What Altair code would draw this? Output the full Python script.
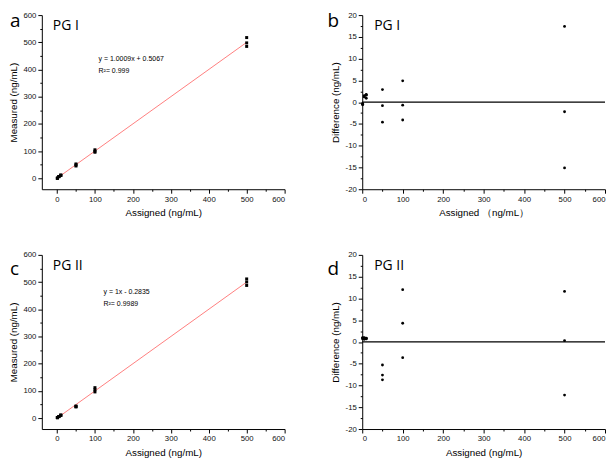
import altair as alt
import pandas as pd

# ---- data ----
assigned = [1, 1, 1, 5, 5, 5, 10, 10, 10, 50, 50, 50, 100, 100, 100, 500, 500, 500]
measured_pg1 = [0.5, 0.7, 0.4, 6.5, 6.2, 6.4, 11.8, 10.9, 11.6, 52.9, 49.2, 45.4, 104.9, 99.3, 95.9, 517.4, 497.8, 484.9]
diff_pg1 = [-0.5, -0.3, -0.6, 1.5, 1.2, 1.4, 1.8, 0.9, 1.6, 2.9, -0.8, -4.6, 4.9, -0.7, -4.1, 17.4, -2.2, -15.1]
measured_pg2 = [1.9, 1.7, 2.0, 5.8, 6.0, 5.6, 10.9, 10.7, 10.8, 44.7, 42.4, 41.3, 112.0, 104.3, 96.4, 511.6, 500.3, 487.8]
diff_pg2 = [0.9, 0.7, 1.0, 0.8, 1.0, 0.6, 0.9, 0.7, 0.8, -5.3, -7.6, -8.7, 12.0, 4.3, -3.6, 11.6, 0.3, -12.2]

panel_letters = ["a", "b", "c", "d"]
group_names = ["PG I", "PG II"]
equations = ["y = 1.0009x + 0.5067", "y = 1x - 0.2835"]
r2_texts = ["R\u00b2= 0.999", "R\u00b2= 0.9989"]
x_ticks = [0, 50, 100, 150, 200, 250, 300, 350, 400, 450, 500, 550, 600]
y_ticks_measured = [0, 50, 100, 150, 200, 250, 300, 350, 400, 450, 500, 550, 600]
y_ticks_diff = [-20, -17.5, -15, -12.5, -10, -7.5, -5, -2.5, 0, 2.5, 5, 7.5, 10, 12.5, 15, 17.5, 20]

W, H = 244, 175
FONT = "Liberation Sans"


def make_axis(title, values, major, title_pad):
    return alt.Axis(
        title=title, values=values, grid=False,
        labelExpr=f"datum.value % {major} != 0 ? '' : '' + datum.value",
        tickSize={"condition": {"test": f"datum.value % {major} != 0", "value": 2}, "value": 4},
        labelPadding=2, titlePadding=title_pad,
        domainColor="black", tickColor="black", labelColor="#111111", titleColor="black",
        labelFont=FONT, labelFontSize=7.8, titleFont=FONT, titleFontSize=9.8, titleFontWeight="normal",
        domainWidth=1, tickWidth=1,
    )


def text_layer(text, x, y, size, font, baseline="middle"):
    return alt.Chart(pd.DataFrame({"t": [text]})).mark_text(
        align="left", baseline=baseline, fontSize=size, font=font, color="black"
    ).encode(text="t:N", x=alt.value(x), y=alt.value(y))


def scatter_panel(measured, letter, name, eq, r2, eq_x, eq_y, letter_y):
    df = pd.DataFrame({"assigned": assigned, "measured": measured})
    xenc = alt.X("assigned:Q", scale=alt.Scale(domain=[-40, 600], nice=False, zero=False),
                 axis=make_axis("Assigned (ng/mL)", x_ticks, 100, 5))
    yenc = alt.Y("measured:Q", scale=alt.Scale(domain=[-40, 600], nice=False, zero=False),
                 axis=make_axis("Measured (ng/mL)", y_ticks_measured, 100, 4))
    line = alt.Chart(df).transform_regression("assigned", "measured").mark_line(
        color="#ff7f7f", strokeWidth=1).encode(x=xenc, y=yenc)
    pts = alt.Chart(df).mark_square(size=9, color="black", opacity=1).encode(x=xenc, y=yenc)
    return alt.layer(
        line, pts,
        text_layer(name, 11, 11, 14, "Open Sans"),
        text_layer(letter, -32, letter_y, 19, "Open Sans", "alphabetic"),
        text_layer(eq, eq_x, eq_y, 7, FONT),
        text_layer(r2, eq_x, eq_y + 12, 7, FONT),
    ).properties(width=W, height=H)


def diff_panel(diff, letter, name, xtitle, letter_y):
    df = pd.DataFrame({"assigned": assigned, "diff": diff})
    yscale = alt.Scale(domain=[-20, 20], nice=False, zero=False)
    xenc = alt.X("assigned:Q", scale=alt.Scale(domain=[0, 600], nice=False, zero=False),
                 axis=make_axis(xtitle, x_ticks, 100, 5))
    yaxis = make_axis("Difference (ng/mL)", y_ticks_diff, 5, 5)
    yenc = alt.Y("diff:Q", scale=yscale, axis=yaxis)
    rule = alt.Chart(pd.DataFrame({"z": [0]})).mark_rule(color="black", strokeWidth=1.2).encode(
        y=alt.Y("z:Q", scale=yscale, axis=yaxis))
    pts = alt.Chart(df).mark_circle(size=8, color="black", opacity=1).encode(x=xenc, y=yenc)
    return alt.layer(
        rule, pts,
        text_layer(name, 12, 11, 14, "Open Sans"),
        text_layer(letter, -35, letter_y, 19, "Open Sans", "alphabetic"),
    ).properties(width=W, height=H)


pa = scatter_panel(measured_pg1, panel_letters[0], group_names[0], equations[0], r2_texts[0], 57, 44, 12)
pb = diff_panel(diff_pg1, panel_letters[1], group_names[0], "Assigned \uff08ng/mL\uff09", 12)
pc = scatter_panel(measured_pg2, panel_letters[2], group_names[1], equations[1], r2_texts[1], 62, 37, 20)
pd_ = diff_panel(diff_pg2, panel_letters[3], group_names[1], "Assigned (ng/mL)", 20)

chart = alt.concat(pa, pb, pc, pd_, columns=2, spacing={"row": 66, "column": 78}, bounds="flush").properties(
    padding={"left": 0, "top": 2, "right": 0, "bottom": 0},
    background="white",
).configure_view(stroke=None)

chart.save("out.html", embed_options={"renderer": "svg", "actions": False})
